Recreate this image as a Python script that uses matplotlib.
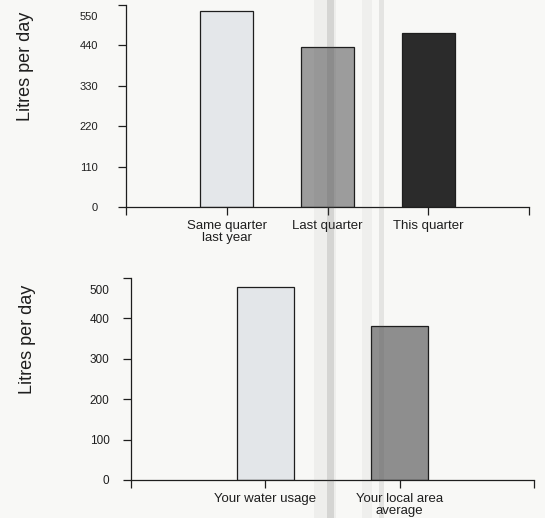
import matplotlib
matplotlib.use("Agg")
import matplotlib.pyplot as plt
import matplotlib.transforms as mtransforms

# Quarterly usage comparison
quarter_labels = ["Same quarter\nlast year", "Last quarter", "This quarter"]
quarter_values = [535, 435, 473]
quarter_ticks = [0, 110, 220, 330, 440, 550]

# Household vs local area comparison
area_labels = ["Your water usage", "Your local area\naverage"]
area_values = [478, 380]
area_ticks = [0, 100, 200, 300, 400, 500]

quarter_colors = ["#e4e7ea", "#9c9c9c", "#2b2b2b"]
area_colors = ["#e3e6e9", "#8e8e8e"]

paper = "#f8f8f6"
ink = "#1e1e1e"

plt.rcParams["font.family"] = ["Liberation Sans", "DejaVu Sans"]

W, H = 545, 518
fig = plt.figure(figsize=(W / 100, H / 100), dpi=100)
fig.patch.set_facecolor(paper)


def px_axes(x0, x1, y_top, y_bottom):
    return fig.add_axes([x0 / W, 1 - y_bottom / H, (x1 - x0) / W, (y_bottom - y_top) / H])


def style_axes(ax, n_slots, ymax, ytick_pad, ytick_size):
    ax.set_facecolor("none")
    for side in ("top", "right"):
        ax.spines[side].set_visible(False)
    for side in ("left", "bottom"):
        ax.spines[side].set_color(ink)
        ax.spines[side].set_linewidth(0.9)
    ax.spines["left"].set_bounds(0, ymax)
    ax.spines["bottom"].set_bounds(0, n_slots)
    ax.set_xlim(0, n_slots)
    ax.set_ylim(0, ymax)
    ax.tick_params(axis="both", direction="out", length=6, width=0.9, colors=ink)
    ax.tick_params(axis="y", pad=ytick_pad, labelsize=ytick_size)
    ax.tick_params(axis="x", pad=3.5, labelsize=9.5)
    # top value label sits a little below its tick
    labels = ax.get_yticklabels()
    shift = mtransforms.ScaledTranslation(0, -8 / 72, fig.dpi_scale_trans)
    labels[-1].set_transform(labels[-1].get_transform() + shift)
    for lab in ax.get_xticklabels():
        lab.set_linespacing(1.0)


# ---- top chart ----
ax1 = px_axes(126, 529, 5, 207)
pos1 = list(range(1, len(quarter_values) + 1))
ax1.bar(pos1, quarter_values, width=0.53, color=quarter_colors,
        edgecolor=ink, linewidth=0.9, zorder=2)
ax1.set_yticks(quarter_ticks)
ax1.set_yticklabels([str(t) for t in quarter_ticks])
ax1.set_xticks([0] + pos1 + [len(pos1) + 1])
ax1.set_xticklabels([""] + quarter_labels + [""])
style_axes(ax1, len(pos1) + 1, quarter_ticks[-1], 14, 8)
fig.text(25 / W, 1 - 66 / H, "Litres per day", rotation=90,
         ha="center", va="center", fontsize=13, color=ink)

# ---- bottom chart ----
ax2 = px_axes(131, 534, 278, 480)
pos2 = list(range(1, len(area_values) + 1))
ax2.bar(pos2, area_values, width=0.42, color=area_colors,
        edgecolor=ink, linewidth=0.9, zorder=2)
ax2.set_yticks(area_ticks)
ax2.set_yticklabels([str(t) for t in area_ticks])
ax2.set_xticks([0] + pos2 + [len(pos2) + 1])
ax2.set_xticklabels([""] + area_labels + [""])
style_axes(ax2, len(pos2) + 1, area_ticks[-1], 9.5, 8.5)
fig.text(28 / W, 1 - 339 / H, "Litres per day", rotation=90,
         ha="center", va="center", fontsize=13, color=ink)

# scanner streaks running down the page
for x0, x1, alpha in [(314, 336, 0.06), (327, 334, 0.16), (362, 372, 0.05), (379, 384, 0.12)]:
    fig.patches.append(plt.Rectangle((x0 / W, 0), (x1 - x0) / W, 1,
                                     transform=fig.transFigure, color="#555555",
                                     alpha=alpha, lw=0, zorder=5))

fig.savefig("out.png", dpi=100, facecolor=paper)
